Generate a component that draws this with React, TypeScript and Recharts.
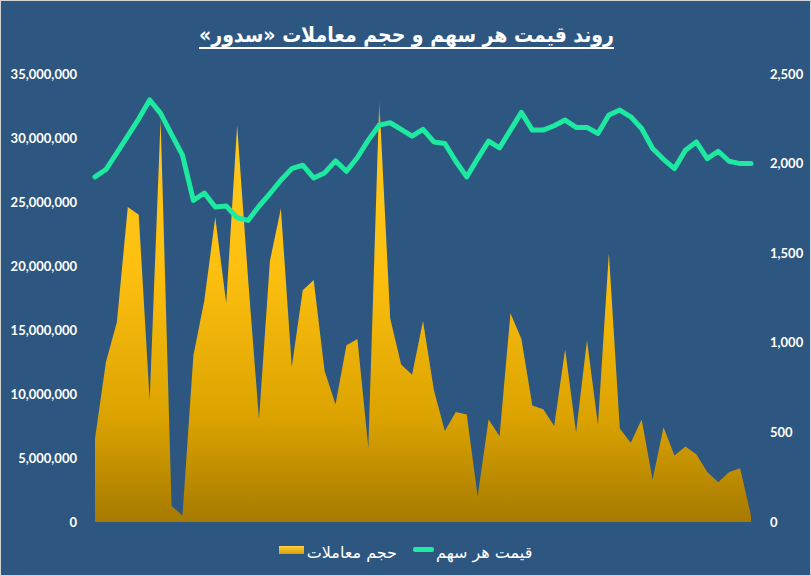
import React from 'react';
import { ComposedChart, Area, Line, XAxis, YAxis, Legend } from 'recharts';

// trading volume (left axis) and price per share (right axis), 61 sessions
const volumes = [
  6500000, 12500000, 15600000, 24600000, 24000000, 9500000, 31500000, 1250000, 500000, 13000000,
  17300000, 23800000, 17100000, 31000000, 19000000, 8000000, 20400000, 24500000, 12100000, 18100000,
  18900000, 11800000, 9200000, 13800000, 14300000, 5800000, 33000000, 15900000, 12300000, 11500000,
  15700000, 10300000, 7100000, 8600000, 8400000, 2000000, 8000000, 6700000, 16300000, 14300000,
  9100000, 8800000, 7500000, 13500000, 7000000, 14200000, 7600000, 21000000, 7300000, 6200000,
  8000000, 3300000, 7400000, 5200000, 5900000, 5300000, 3900000, 3100000, 3900000, 4200000,
  500000,
];
const prices = [
  1926, 1967, 2060, 2155, 2250, 2355, 2280, 2163, 2047, 1795,
  1836, 1758, 1763, 1698, 1683, 1762, 1833, 1907, 1972, 1991,
  1920, 1948, 2015, 1957, 2034, 2131, 2215, 2228, 2191, 2153,
  2191, 2121, 2112, 2013, 1926, 2028, 2125, 2088, 2187, 2286,
  2187, 2187, 2211, 2243, 2202, 2202, 2168, 2271, 2299, 2261,
  2196, 2084, 2024, 1972, 2075, 2121, 2028, 2069, 2013, 2000,
  2000,
];
const volumeTicks = [0, 5000000, 10000000, 15000000, 20000000, 25000000, 30000000, 35000000];
const priceTicks = [0, 500, 1000, 1500, 2000, 2500];

const title = 'روند قیمت هر سهم و حجم معاملات «سدور»';
const volumeName = 'حجم معاملات';
const priceName = 'قیمت هر سهم';

const data = volumes.map((v, i) => ({ day: i + 1, volume: v, price: prices[i] }));

const fmt = (v: number) => v.toLocaleString('en-US');

const tickStyle = { fill: '#ffffff', fontSize: 13, fontWeight: 700, fontFamily: 'Lato, sans-serif' };

const renderLegend = () => (
  <div
    style={{
      display: 'flex',
      justifyContent: 'center',
      alignItems: 'center',
      direction: 'rtl',
      fontFamily: '"DejaVu Sans", sans-serif',
      fontSize: 16,
      color: '#ffffff',
      gap: 16,
    }}
  >
    <span style={{ display: 'flex', alignItems: 'center' }}>
      <span>{priceName}</span>
      <span style={{ width: 21, height: 5, background: '#1de9a0', marginRight: 2, marginBottom: 6, borderRadius: 2 }} />
    </span>
    <span style={{ display: 'flex', alignItems: 'center' }}>
      <span>{volumeName}</span>
      <span
        style={{
          width: 25,
          height: 8,
          background: 'linear-gradient(#ffd040, #d9a000)',
          marginRight: 3,
          marginBottom: 6,
        }}
      />
    </span>
  </div>
);

export default function App() {
  return (
    <div
      style={{
        position: 'relative',
        width: 811,
        height: 576,
        background: '#2d5780',
        border: '1px solid #d4d4d4',
        boxSizing: 'border-box',
      }}
    >
      <style>{'body{margin:0}'}</style>
      <div
        style={{
          position: 'absolute',
          top: 22,
          left: 0,
          width: 811,
          textAlign: 'center',
          direction: 'rtl',
          color: '#ffffff',
          fontFamily: '"DejaVu Sans Condensed", "DejaVu Sans", sans-serif',
          fontWeight: 700,
          fontSize: 21,
          textDecoration: 'underline',
          textDecorationThickness: 2,
          textUnderlineOffset: 5,
        }}
      >
        {title}
      </div>
      <ComposedChart
        width={809}
        height={574}
        data={data}
        margin={{ top: 73, right: 0, bottom: 0, left: 0 }}
        style={{ position: 'absolute', top: 0, left: 0 }}
      >
        <defs>
          <linearGradient id="volFill" x1="0" y1="0" x2="0" y2="1">
            <stop offset="0%" stopColor="#ffc000" stopOpacity={0.25} />
            <stop offset="7%" stopColor="#ffc81f" stopOpacity={1} />
            <stop offset="40%" stopColor="#fdc010" stopOpacity={1} />
            <stop offset="75%" stopColor="#dca300" stopOpacity={1} />
            <stop offset="100%" stopColor="#a67a00" stopOpacity={1} />
          </linearGradient>
        </defs>
        <XAxis dataKey="day" hide />
        <YAxis
          yAxisId="vol"
          orientation="left"
          width={94}
          domain={[0, 35000000]}
          ticks={volumeTicks}
          tickFormatter={fmt}
          axisLine={false}
          tickLine={false}
          tickSize={0}
          tickMargin={18}
          tick={tickStyle}
          interval={0}
        />
        <YAxis
          yAxisId="price"
          orientation="right"
          width={59}
          domain={[0, 2500]}
          ticks={priceTicks}
          tickFormatter={fmt}
          axisLine={false}
          tickLine={false}
          tickSize={0}
          tickMargin={19}
          tick={tickStyle}
          interval={0}
        />
        <Legend
          verticalAlign="bottom"
          height={53}
          content={renderLegend}
          wrapperStyle={{ top: 542, left: 0, width: 809 }}
        />
        <Area
          yAxisId="vol"
          type="linear"
          dataKey="volume"
          name={volumeName}
          fill="url(#volFill)"
          fillOpacity={1}
          stroke="none"
          isAnimationActive={false}
        />
        <Line
          yAxisId="price"
          type="linear"
          dataKey="price"
          name={priceName}
          stroke="#1de9a0"
          strokeWidth={5}
          strokeLinejoin="round"
          strokeLinecap="round"
          dot={false}
          activeDot={false}
          isAnimationActive={false}
        />
      </ComposedChart>
    </div>
  );
}
